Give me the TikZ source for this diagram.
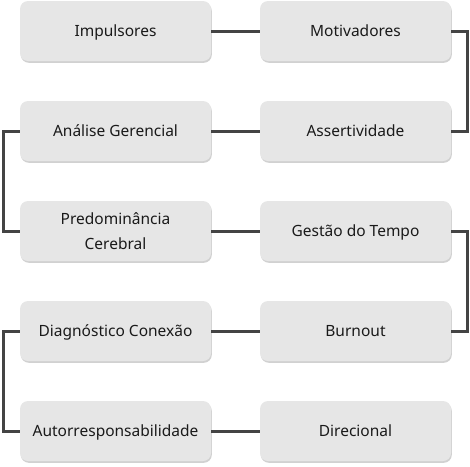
\documentclass[tikz,border=0pt]{standalone}
\usepackage{fontspec}
\setmainfont{Noto Sans}
\usetikzlibrary{shadows}
\begin{document}
\begin{tikzpicture}[x=1pt,y=-1pt,
  box/.style={draw=none, fill=boxfill, rounded corners=8pt, minimum width=191pt, minimum height=60pt,
    inner sep=2pt, align=center, font=\fontsize{15.5}{25}\selectfont, text=textc,
    text height=13pt, text depth=2pt,
    drop shadow={shadow xshift=0.8pt, shadow yshift=-1.8pt, fill=black, opacity=0.18}},
  link/.style={draw=linec, line width=3pt}]
\definecolor{boxfill}{HTML}{E6E6E6}
\definecolor{linec}{HTML}{444444}
\definecolor{textc}{HTML}{1A1A1A}
\useasboundingbox (0,0) rectangle (470,466);
\node[box] (imp) at (115.5,31) {Impulsores};
\node[box] (mot) at (355.5,31) {Motivadores};
\node[box] (ana) at (115.5,131) {Análise Gerencial};
\node[box] (ass) at (355.5,131) {Assertividade};
\node[box, text height=, text depth=] (pre) at (115.5,231) {Predominância\\Cerebral};
\node[box] (ges) at (355.5,231) {Gestão do Tempo};
\node[box] (dia) at (115.5,331) {Diagnóstico Conexão};
\node[box] (bur) at (355.5,331) {Burnout};
\node[box] (aut) at (115.5,431) {Autorresponsabilidade};
\node[box] (dir) at (355.5,431) {Direcional};
\coordinate (r1) at (467.5,31);
\coordinate (r2) at (467.5,131);
\coordinate (l1) at (3.5,131);
\coordinate (l2) at (3.5,231);
\coordinate (r3) at (467.5,231);
\coordinate (r4) at (467.5,331);
\coordinate (l3) at (3.5,331);
\coordinate (l4) at (3.5,431);
\draw[link] (imp.east) -- (mot.west);
\draw[link] (mot.east) -- (r1) -- (r2) -- (ass.east);
\draw[link] (ass.west) -- (ana.east);
\draw[link] (ana.west) -- (l1) -- (l2) -- (pre.west);
\draw[link] (pre.east) -- (ges.west);
\draw[link] (ges.east) -- (r3) -- (r4) -- (bur.east);
\draw[link] (bur.west) -- (dia.east);
\draw[link] (dia.west) -- (l3) -- (l4) -- (aut.west);
\draw[link] (aut.east) -- (dir.west);
\end{tikzpicture}
\end{document}
